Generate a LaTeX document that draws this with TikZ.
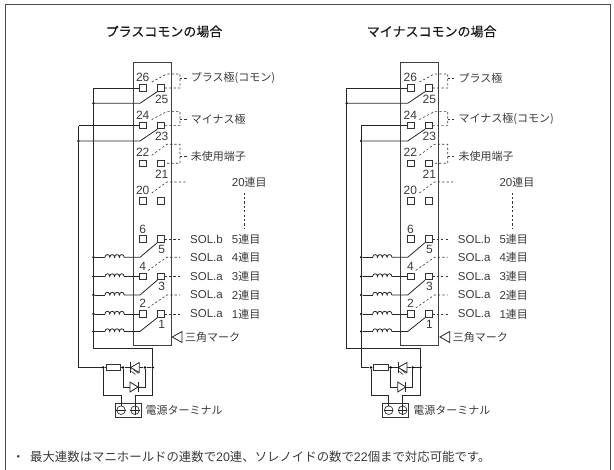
\documentclass[tikz,border=0pt]{standalone}
\usepackage{fontspec}
\setmainfont{Noto Sans CJK JP}
\newfontfamily\latinfont{Liberation Sans}
\newfontfamily\headfont[FakeBold=0.35]{Noto Sans CJK JP}
\usepackage{xcolor}
\usetikzlibrary{positioning}
\definecolor{inkgray}{HTML}{3A3A3A}
\tikzset{
    wire/.style={line width=.8pt,draw=black!85},
    dashwire/.style={line width=.6pt,draw=black!80,dash pattern=on 2.2pt off 2.2pt},
    frameline/.style={line width=1pt,draw=black!70},
    terminal/.style={draw=black!80,line width=.8pt,fill=white,minimum size=6.4pt,inner sep=0pt},
    joint/.style={circle,fill=black,minimum size=2.8pt,inner sep=0pt},
    pinno/.style={inner sep=0pt,text=inkgray,font=\latinfont\fontsize{12}{12}\selectfont},
    lbl/.style={inner sep=0pt,anchor=west,text=inkgray,font=\fontsize{11}{11}\selectfont},
    sollbl/.style={inner sep=0pt,anchor=west,text=inkgray,font=\latinfont\fontsize{11.5}{12}\selectfont},
    heading/.style={inner sep=0pt,text=black!90,font=\headfont\fontsize{13}{13}\selectfont},
    coil/.pic={\draw[wire] (0,0) \foreach \k in {0,1,2,3} {.. controls (4.8*\k,-3.6) and (4.8*\k+4.8,-3.6) .. (4.8*\k+4.8,0)};}
}
\begin{document}
\begin{tikzpicture}[x=1pt,y=-1pt]
    \useasboundingbox (0,0) rectangle (614,470);
    \coordinate (fa) at (5.5,470);
    \coordinate (fb) at (5.5,4.5);
    \coordinate (fc) at (610.6,4.5);
    \coordinate (fd) at (610.6,470);
    \draw[frameline] (fa) -- (fb) -- (fc) -- (fd);
    \foreach \pre/\dx/\xa/\xb/\titletext/\laba/\labb in {
        L/0/93.5/78.5/プラスコモンの場合/プラス極(コモン)/マイナス極,
        R/267.7/79/93.6/マイナスコモンの場合/プラス極/マイナス極(コモン)} {
    \begin{scope}[shift={(\dx,0)},name prefix=\pre-]
        \node[heading] (title) at (164,31.5) {\titletext};
        \node[draw=black!75,line width=1pt,minimum width=38pt,minimum height=283pt,inner sep=0pt] (block) at (152,204.5) {};
        \foreach \lno/\rno/\y in {26/25/88,24/23/125.6,22/21/163.3,20/19/201,6/5/239,4/3/276.5,2/1/314} {
            \node[terminal] (t\lno) at (143,\y) {};
            \node[terminal] (t\rno) at (161,\y) {};
        }
        \foreach \num/\px/\py in {26/142.7/77.3,25/161.7/99,24/142.7/115,23/161.7/136.7,22/142.7/152.7,21/161.7/174,20/142.7/190.7,
                                  6/142.7/229,5/161.7/249,4/142.7/266,3/161.7/286.7,2/142.7/303,1/161.7/324} {
            \node[pinno] (no\num) at (\px,\py) {\num};
        }
        \node[lbl] (lab1) at (190.7,78) {\laba};
        \node[lbl] (lab2) at (190.7,119) {\labb};
        \node[lbl] (lab3) at (190.7,156) {未使用端子};
        \node[lbl] (lab20) at (231.7,182) {{\latinfont\fontsize{11.5}{12}\selectfont 20}連目};
        \foreach \lno/\rno/\lab/\st/\up in {26/25/lab1/6/14,24/23/lab2/6/14,22/21/lab3/8/19} {
            \path (t\lno.center) ++(8.7,-\st) coordinate (s\lno);
            \path (t\lno.center) ++(23.7,-\up) coordinate (q\lno);
            \path (t\lno.center) ++(37,-\up) coordinate (r\lno);
            \coordinate (e\lno) at (r\lno |- t\rno.east);
            \coordinate (m\lno) at (r\lno |- \lab.west);
            \draw[dashwire] (s\lno) -- (q\lno) -- (r\lno) -- (e\lno) -- (t\rno.east);
            \draw[dashwire] (m\lno) -- ([xshift=-2pt]\lab.west);
        }
        \coordinate (s20) at (151.7,193);
        \coordinate (q20) at (166.7,182);
        \coordinate (r20) at (186.7,182);
        \draw[dashwire] (s20) -- (q20) -- (r20);
        \coordinate (v20a) at (244.3,192.7);
        \coordinate (v20b) at (244.3,228);
        \draw[dashwire] (v20a) -- (v20b);
        \foreach \rno/\tail/\y in {5/SOL.b/239,3/SOL.a/276.5,1/SOL.a/314} {
            \node[sollbl] (sol\rno) at (190,\y) {\tail};
            \coordinate (e\rno) at (180,\y);
            \draw[dashwire] (t\rno.east) -- (e\rno);
        }
        \foreach \lno/\tail/\y in {4/SOL.a/257.3,2/SOL.a/295} {
            \node[sollbl] (sol\lno) at (190,\y) {\tail};
            \path (t\lno.center) ++(5,-6) coordinate (s\lno);
            \coordinate (q\lno) at (166.7,\y);
            \coordinate (e\lno) at (180,\y);
            \draw[dashwire] (s\lno) -- (q\lno) -- (e\lno);
        }
        \foreach \cnt/\y in {5/239,4/257.3,3/276.5,2/295,1/314} {
            \node[lbl] (cnt\cnt) at (231.7,\y) {{\latinfont\fontsize{11.5}{12}\selectfont \cnt}連目};
        }
        \coordinate (wa) at (\xa,88);
        \coordinate (wb) at (\xb,125.6);
        \node[joint] (ja) at (\xa,103.3) {};
        \node[joint] (jb) at (\xb,141) {};
        \coordinate (a25) at (140,103.3);
        \coordinate (a23) at (140,141);
        \draw[wire] (t26.west) -- (wa);
        \draw[wire] (t24.west) -- (wb);
        \draw[wire] (t25.south west) -- (a25) -- (ja);
        \draw[wire] (t23.south west) -- (a23) -- (jb);
        \foreach \i/\y in {1/257.3,2/276.5,3/295,4/314,5/331.5} {
            \node[joint] (jc\i) at (93.5,\y) {};
            \coordinate (ca\i) at (105,\y);
            \coordinate (cb\i) at (124.2,\y);
            \pic at (ca\i) {coil};
            \draw[wire] (jc\i) -- (ca\i);
        }
        \foreach \i/\endnode in {2/t4,4/t2} {
            \draw[wire] (cb\i) -- (\endnode.west);
        }
        \foreach \i/\y/\endnode in {1/257.3/t5,3/295/t3,5/331.5/t1} {
            \coordinate (d\i) at (140,\y);
            \draw[wire] (cb\i) -- (d\i) -- (\endnode.south west);
        }
        \node[joint] (n1) at (103.3,367.5) {};
        \node[joint] (n2) at (123,367.5) {};
        \node[joint] (n3) at (145,367.5) {};
        \node[joint] (n4) at (152.7,367.5) {};
        \node[draw=black!80,line width=.8pt,fill=white,minimum width=14.7pt,minimum height=5.4pt,inner sep=0pt] (res) at (113.4,367.5) {};
        \coordinate (led) at (134.5,367.5);
        \coordinate (dio) at (134,387);
        \coordinate (lowa) at (\xa,348.5);
        \coordinate (lowb) at (152.7,348.5);
        \coordinate (lowc) at (\xb,367.5);
        \coordinate (lowd) at (152.7,395);
        \coordinate (lowe) at (103.3,395);
        \coordinate (dl) at (123,387);
        \coordinate (dr) at (145,387);
        \node[draw=black!80,line width=.8pt,minimum width=26pt,minimum height=14.5pt,inner sep=0pt] (tbox) at (128,410.2) {};
        \node[draw=black!80,line width=.7pt,circle,minimum size=8.6pt,inner sep=0pt] (minus) at (121,410.2) {};
        \node[draw=black!80,line width=.7pt,circle,minimum size=8.6pt,inner sep=0pt] (plus) at (135,410.2) {};
        \draw[wire,line width=.6pt] (minus.west) -- (minus.east);
        \draw[wire,line width=.6pt] (plus.west) -- (plus.east);
        \draw[wire,line width=.6pt] (plus.north) -- (plus.south);
        \draw[wire] (wa) -- (lowa) -- (lowb) -- (n4) -- (lowd) -| (plus.north);
        \draw[wire] (wb) -- (lowc) -- (n1) -- (res) -- (n2) -- (n3) -- (n4);
        \draw[wire] (n1) -- (lowe) -| (minus.north);
        \draw[wire] (n2) -- (dl) -- (dr) -- (n3);
        \draw[wire,fill=white] (led) ++(-4,0) -- ++(8.8,-5) -- ++(0,10) -- cycle;
        \draw[wire] (led) ++(-4,-5.4) -- ++(0,10.8);
        \draw[wire,line width=.6pt] (led) ++(-1,2) -- ++(5,4);
        \draw[wire,line width=.6pt] (led) ++(-3,4) -- ++(4,3);
        \draw[wire,fill=white] (dio) ++(-4,-5) -- ++(8,5) -- ++(-8,5) -- cycle;
        \draw[wire] (dio) ++(4,-5.4) -- ++(0,10.8);
        \coordinate (ma) at (172.3,337);
        \coordinate (mb) at (182,331.5);
        \coordinate (mc) at (182,342.5);
        \draw[wire,fill=white] (ma) -- (mb) -- (mc) -- cycle;
        \node[lbl] (mark) at (185,337) {三角マーク};
        \node[lbl,right=4pt of tbox] (psu) {電源ターミナル};
    \end{scope}
    }
    \node[inner sep=0pt,anchor=west,text=inkgray,font=\fontsize{12.4}{12}\selectfont] (note) at (12,456.5) {・\hspace{5.6pt}最大連数はマニホールドの連数で{\latinfont 20}連、ソレノイドの数で{\latinfont 22}個まで対応可能です。};
\end{tikzpicture}
\end{document}
